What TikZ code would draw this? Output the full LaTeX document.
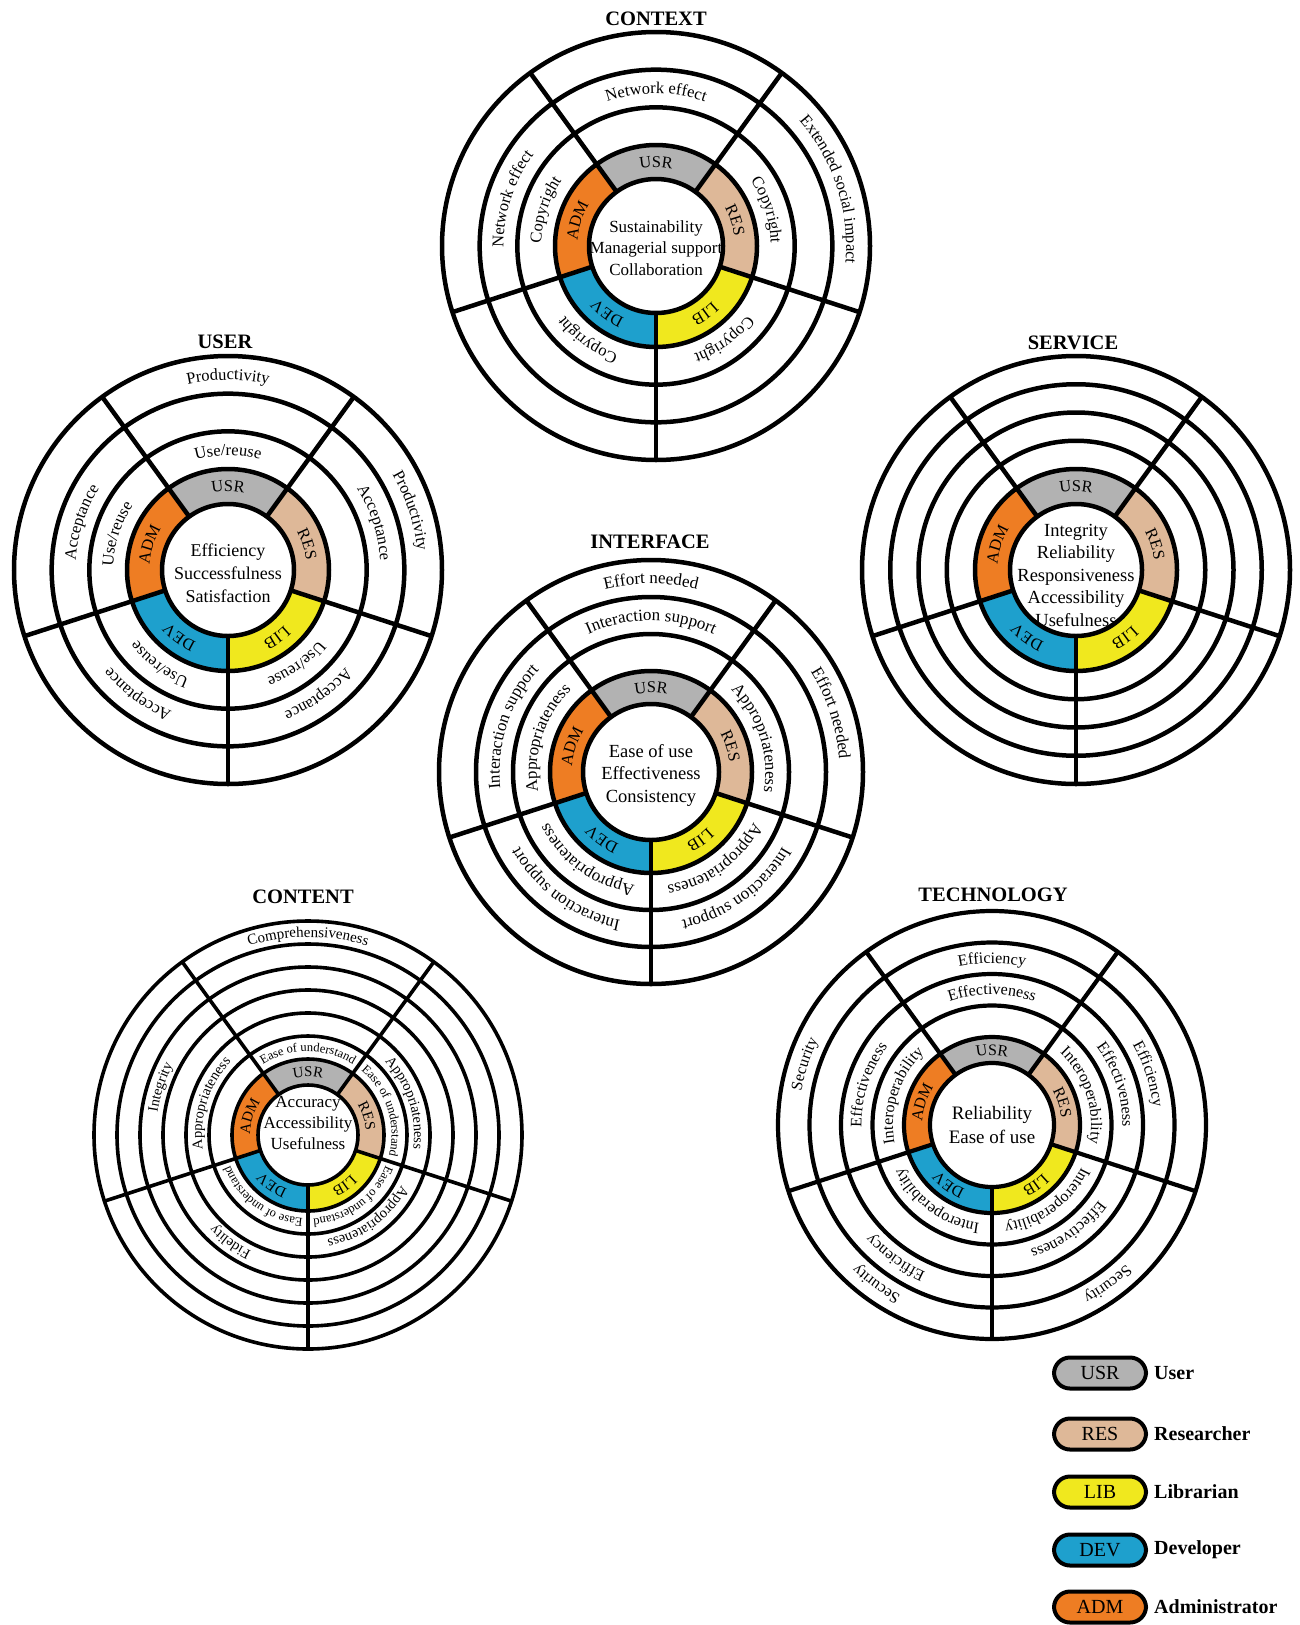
\documentclass[tikz,border=0pt]{standalone}
\usepackage{fontspec}
\setmainfont{Liberation Serif}
\usetikzlibrary{decorations.text}
\definecolor{cusr}{RGB}{178,178,178}
\definecolor{cres}{RGB}{222,184,152}
\definecolor{clib}{RGB}{240,232,30}
\definecolor{cdev}{RGB}{30,160,205}
\definecolor{cadm}{RGB}{238,125,35}
\newcommand\sect[5]{\fill[#5] (#1:#3) -- (#1:#4) arc[start angle=#1,end angle=#2,radius=#4] -- (#2:#3) arc[start angle=#2,end angle=#1,radius=#3] -- cycle;}
\newcommand\wheel[5]{%
  \sect{54}{126}{#1}{#2}{cusr}
  \sect{-18}{54}{#1}{#2}{cres}
  \sect{-90}{-18}{#1}{#2}{clib}
  \sect{-162}{-90}{#1}{#2}{cdev}
  \sect{126}{198}{#1}{#2}{cadm}
  \begin{scope}[line width=#5pt]
  \draw (0,0) circle[radius=#1];
  \foreach \k in {0,...,#4}{\pgfmathsetmacro\rr{#2+(#3-#2)*\k/#4}\draw (0,0) circle[radius=\rr];}
  \foreach \a in {54,126,198,270,342}{\draw (\a:#1) -- (\a:#3);}
  \end{scope}}
\newcommand\rlab[4]{\path[decorate,decoration={text along path,text align=center,text={|\fontsize{#3}{#3}\selectfont|#4}}] ({#1+40}:#2) arc[start angle={#1+40},end angle={#1-40},radius=#2];}
\newcommand\roles[2]{%
  \rlab{90}{#1}{#2}{USR}\rlab{18}{#1}{#2}{RES}\rlab{-54}{#1}{#2}{LIB}\rlab{-126}{#1}{#2}{DEV}\rlab{162}{#1}{#2}{ADM}}
\tikzset{
  ttl/.style={font=\bfseries\fontsize{20.5}{20.5}\selectfont},
  ctext/.style={align=center,inner sep=0pt},
  pill/.style={draw,line width=4pt,rounded corners=16pt,minimum width=92pt,minimum height=31pt,inner sep=0pt,font=\fontsize{20}{20}\selectfont},
  lname/.style={anchor=west,inner sep=0pt,font=\bfseries\fontsize{20}{20}\selectfont}
}
\begin{document}
\begin{tikzpicture}[x=1pt,y=1pt]
\useasboundingbox (0,0) rectangle (1299,-1625);
\fill[white] (0,0) rectangle (1299,-1625);

% ---------- CONTEXT
\node[ttl] (tctx) at (656,-19) {CONTEXT};
\begin{scope}[shift={(656,-246)}]
 \wheel{67}{101}{214}{3}{4.5}
 \node[ctext,font=\fontsize{17}{21.5}\selectfont] (cctx) at (0,-2) {Sustainability\\Managerial support\\Collaboration};
 \roles{78.6}{16.5}
 \rlab{90}{152.5}{16.5}{Network effect}
 \rlab{18}{114.8}{16.5}{Copyright}
 \rlab{18}{190.2}{16.5}{Extended social impact}
 \rlab{-54}{114.8}{16.5}{Copyright}
 \rlab{-126}{114.8}{16.5}{Copyright}
 \rlab{162}{114.8}{16.5}{Copyright}
 \rlab{162}{152.5}{16.5}{Network effect}
\end{scope}

% ---------- USER
\node[ttl] (tusr) at (225,-342) {USER};
\begin{scope}[shift={(228,-570)}]
 \wheel{66}{101}{214}{3}{4.5}
 \node[ctext,font=\fontsize{18}{23}\selectfont] (cusr) at (0,-3) {Efficiency\\Successfulness\\Satisfaction};
 \roles{78.6}{16.5}
 \rlab{90}{114.8}{16.5}{Use/reuse}
 \rlab{90}{190.2}{16.5}{Productivity}
 \rlab{18}{152.5}{16.5}{Acceptance}
 \rlab{18}{190.2}{16.5}{Productivity}
 \rlab{-54}{114.8}{16.5}{Use/reuse}
 \rlab{-54}{152.5}{16.5}{Acceptance}
 \rlab{-126}{114.8}{16.5}{Use/reuse}
 \rlab{-126}{152.5}{16.5}{Acceptance}
 \rlab{162}{114.8}{16.5}{Use/reuse}
 \rlab{162}{152.5}{16.5}{Acceptance}
\end{scope}

% ---------- SERVICE
\node[ttl] (tsrv) at (1073,-343) {SERVICE};
\begin{scope}[shift={(1076,-570)}]
 \wheel{66}{101}{214}{4}{4.5}
 \node[ctext,font=\fontsize{18.5}{22.5}\selectfont] (csrv) at (0,-5) {Integrity\\Reliability\\Responsiveness\\Accessibility\\Usefulness};
 \roles{78.6}{16.5}
\end{scope}

% ---------- INTERFACE
\node[ttl] (tifc) at (650,-542) {INTERFACE};
\begin{scope}[shift={(651,-772)}]
 \wheel{68}{101}{212}{3}{4.5}
 \node[ctext,font=\fontsize{18.5}{22.5}\selectfont] (cifc) at (0,-3) {Ease of use\\Effectiveness\\Consistency};
 \roles{79}{16.5}
 \rlab{90}{151.4}{17}{Interaction support}
 \rlab{90}{188.4}{17}{Effort needed}
 \rlab{18}{114.4}{17}{Appropriateness}
 \rlab{18}{188.4}{17}{Effort needed}
 \rlab{-54}{114.4}{17}{Appropriateness}
 \rlab{-54}{151.4}{17}{Interaction support}
 \rlab{-126}{114.4}{17}{Appropriateness}
 \rlab{-126}{151.4}{17}{Interaction support}
 \rlab{162}{114.4}{17}{Appropriateness}
 \rlab{162}{151.4}{17}{Interaction support}
\end{scope}

% ---------- CONTENT
\node[ttl] (tcnt) at (303,-897) {CONTENT};
\begin{scope}[shift={(308,-1135)}]
 \wheel{50}{76}{214}{6}{3.6}
 \node[ctext,font=\fontsize{17}{21}\selectfont] (ccnt) at (0,12) {Accuracy\\Accessibility\\Usefulness};
 \roles{58}{15}
 \rlab{90}{83.7}{12.5}{Ease of understand}
 \rlab{90}{198}{15}{Comprehensiveness}
 \rlab{18}{83.7}{12.5}{Ease of understand}
 \rlab{18}{106.2}{14.5}{Appropriateness}
 \rlab{-54}{83.7}{12.5}{Ease of understand}
 \rlab{-54}{106.2}{14.5}{Appropriateness}
 \rlab{-126}{83.7}{12.5}{Ease of understand}
 \rlab{-126}{129.2}{14.5}{Fidelity}
 \rlab{162}{106.2}{14.5}{Appropriateness}
 \rlab{162}{152.2}{14.5}{Integrity}
\end{scope}

% ---------- TECHNOLOGY
\node[ttl] (ttec) at (993,-895) {TECHNOLOGY};
\begin{scope}[shift={(992,-1125)}]
 \wheel{62}{88}{214}{4}{4.2}
 \node[ctext,font=\fontsize{19}{23.5}\selectfont] (ctec) at (0,0) {Reliability\\Ease of use};
 \roles{69.7}{16}
 \rlab{90}{130.5}{16}{Effectiveness}
 \rlab{90}{162}{16}{Efficiency}
 \rlab{18}{99}{16}{Interoperability}
 \rlab{18}{130.5}{16}{Effectiveness}
 \rlab{18}{162}{16}{Efficiency}
 \rlab{-54}{99}{16}{Interoperability}
 \rlab{-54}{130.5}{16}{Effectiveness}
 \rlab{-54}{193.5}{16}{Security}
 \rlab{-126}{99}{16}{Interoperability}
 \rlab{-126}{162}{16}{Efficiency}
 \rlab{-126}{193.5}{16}{Security}
 \rlab{162}{99}{16}{Interoperability}
 \rlab{162}{130.5}{16}{Effectiveness}
 \rlab{162}{193.5}{16}{Security}
\end{scope}

% ---------- legend
\node[pill,fill=cusr] (pusr) at (1100,-1373) {USR};
\node[lname] (nusr) at (1154,-1373) {User};
\node[pill,fill=cres] (pres) at (1100,-1434) {RES};
\node[lname] (nres) at (1154,-1434) {Researcher};
\node[pill,fill=clib] (plib) at (1100,-1492) {LIB};
\node[lname] (nlib) at (1154,-1492) {Librarian};
\node[pill,fill=cdev] (pdev) at (1100,-1550) {DEV};
\node[lname] (ndev) at (1154,-1550) {Developer};
\node[pill,fill=cadm] (padm) at (1100,-1607) {ADM};
\node[lname] (nadm) at (1154,-1607) {Administrator};
\end{tikzpicture}
\end{document}
